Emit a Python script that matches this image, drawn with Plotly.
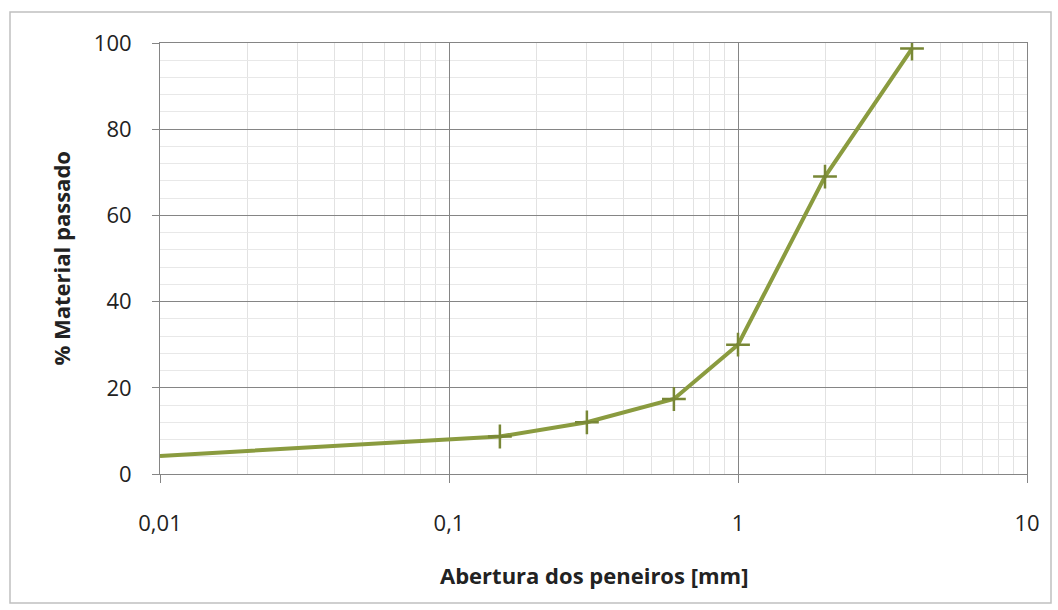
import plotly.graph_objects as go

abertura = [0.01, 0.15, 0.3, 0.6, 1.0, 2.0, 4.0]
passado = [4.2, 8.7, 12.0, 17.4, 30.0, 69.0, 98.7]
x_tickvals = [0.01, 0.1, 1, 10]
x_ticktext = ["0,01", "0,1", "1", "10"]
y_tickvals = [0, 20, 40, 60, 80, 100]

FONT = "Open Sans"
LINE = "#8a9b3f"
MARK = "#788736"

fig = go.Figure()
fig.add_trace(go.Scatter(x=abertura, y=passado, mode="lines",
                         line=dict(color=LINE, width=4), hoverinfo="skip",
                         showlegend=False))
fig.add_trace(go.Scatter(x=abertura[1:], y=passado[1:], mode="markers",
                         marker=dict(symbol="cross-thin", size=17,
                                     line=dict(color=MARK, width=2.5)),
                         showlegend=False))

fig.update_layout(
    width=1058, height=610,
    margin=dict(l=160, r=31, t=43, b=136),
    paper_bgcolor="white", plot_bgcolor="white",
    font=dict(family=FONT, size=22, color="#222"),
    xaxis=dict(type="log", range=[-2, 1], tickmode="array",
               tickvals=x_tickvals, ticktext=x_ticktext,
               showgrid=True, gridcolor="#858585", gridwidth=1,
               ticks="outside", ticklen=8, tickcolor="#858585",
               ticklabelstandoff=22,
               showline=True, linecolor="#858585", mirror=True,
               minor=dict(showgrid=True, gridcolor="#e2e2e2", dtick="D1",
                          ticks=""),
               zeroline=False),
    yaxis=dict(range=[0, 100], tickmode="array", tickvals=y_tickvals,
               showgrid=True, gridcolor="#858585", gridwidth=1,
               ticks="outside", ticklen=7, tickcolor="#858585",
               ticklabelstandoff=16,
               showline=True, linecolor="#858585", mirror=True,
               minor=dict(showgrid=True, gridcolor="#e8e8e8", dtick=4,
                          ticks=""),
               zeroline=False),
    shapes=[dict(type="rect", xref="paper", yref="paper",
                 x0=(10 - 160) / 867, x1=(1051 - 160) / 867,
                 y0=(474 - 603) / 431, y1=(474 - 12) / 431,
                 line=dict(color="#c0c0c0", width=1.5), layer="below")],
    annotations=[
        dict(text="<b>Abertura dos peneiros [mm]</b>", xref="paper", yref="paper",
             x=0.5, y=(474 - 575) / 431, showarrow=False,
             font=dict(size=22, family=FONT), xanchor="center", yanchor="middle"),
        dict(text="<b>% Material passado</b>", xref="paper", yref="paper",
             x=(60 - 160) / 867, y=0.5, showarrow=False, textangle=-90,
             font=dict(size=22, family=FONT), xanchor="center", yanchor="middle"),
    ],
)

fig.write_html("out.html")
